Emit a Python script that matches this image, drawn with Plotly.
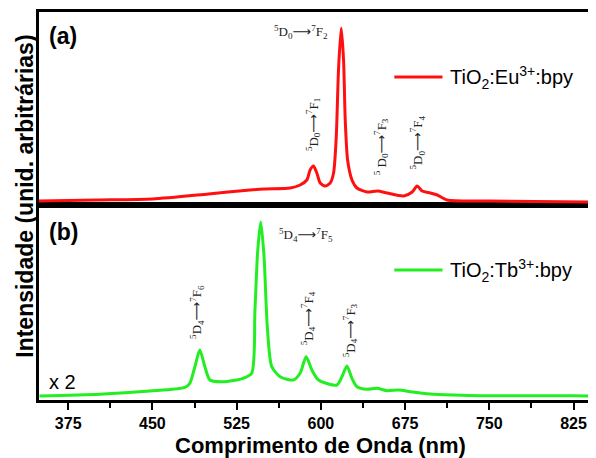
import plotly.graph_objects as go

# Panel (a): TiO2:Eu3+:bpy  (wavelength nm, intensity a.u.)
eu_wavelength = [349, 400, 450, 500, 537, 550, 572.6, 581.5, 587.5, 590.4, 593.4, 596.4,
                 599.4, 603.8, 608.3, 611.3, 613.7, 615.7, 618.1, 620.2, 621.7, 623.8,
                 627.7, 632.1, 641.1, 650.5, 658.9, 673.8, 681.3, 685.7, 690.2, 697.6,
                 703.6, 712.5, 750, 845]
eu_intensity = [4, 5, 6, 11, 15, 16, 17, 20, 25, 35, 39, 32,
                22, 19, 22, 32, 68, 135, 177, 145, 85, 45,
                25, 17, 13, 14, 12, 9, 13, 19, 14, 12,
                10, 5, 4, 3]

# Panel (b): TiO2:Tb3+:bpy (x 2)
tb_wavelength = [349.4, 402.9, 447.6, 478.8, 483.3, 487.8, 492.2, 496.7, 501.2, 513,
                 530.9, 538.4, 541.3, 543.8, 546.5, 549.4, 552.3, 556.3, 563.7, 575.5,
                 581.5, 586.9, 592, 597.9, 614.3, 618.8, 623.2, 627.7, 632.1, 641.1,
                 650, 659, 669.3, 679.7, 697.6, 718.4, 742.1, 824.4, 845]
tb_intensity = [4, 5.7, 9, 12.7, 16.7, 33.3, 50, 33.3, 20, 18.3,
                21.7, 26.7, 90, 150, 178, 143.3, 73.3, 33.3, 23.3, 20,
                26.7, 43.3, 30, 20, 15, 23.3, 34, 21.7, 13.3, 10.7,
                11.7, 9.3, 10, 8.3, 6, 5, 4.3, 4.3, 4]

x_ticks = [375, 450, 525, 600, 675, 750, 825]
x_minor = [412.5, 487.5, 562.5, 637.5, 712.5, 787.5]
x_range = [349, 845]

RED = "#ff1010"
GREEN = "#22ee22"
SANS = "Liberation Sans, Arial, sans-serif"
SERIF = "Liberation Serif, Times New Roman, serif"
ARROW = "<span style='font-family:DejaVu Sans'>⟶</span>"

fig = go.Figure()
fig.add_trace(go.Scatter(x=eu_wavelength, y=eu_intensity, mode="lines",
                         name="TiO<sub>2</sub>:Eu<sup>3+</sup>:bpy",
                         line=dict(color=RED, width=3, shape="spline", smoothing=0.7),
                         xaxis="x2", yaxis="y2", showlegend=False))
fig.add_trace(go.Scatter(x=tb_wavelength, y=tb_intensity, mode="lines",
                         name="TiO<sub>2</sub>:Tb<sup>3+</sup>:bpy",
                         line=dict(color=GREEN, width=3, shape="spline", smoothing=0.7),
                         xaxis="x", yaxis="y", showlegend=False))

split = 195 / 388
axis_common = dict(showline=True, linecolor="black", linewidth=3, showgrid=False, zeroline=False)

fig.update_layout(
    width=588, height=450,
    margin=dict(l=31, r=0, t=4, b=58),
    paper_bgcolor="white", plot_bgcolor="white",
    xaxis=dict(range=x_range, tickvals=x_ticks, ticks="outside", ticklen=7, tickwidth=2,
               tickcolor="black", mirror=True,
               minor=dict(tickvals=x_minor, ticks="outside",
                          ticklen=5, tickwidth=2, tickcolor="black"),
               tickfont=dict(family=SANS, size=16, color="black", weight="bold"),
               anchor="y", **axis_common),
    xaxis2=dict(range=x_range, matches="x", showticklabels=False, ticks="", mirror=True,
                anchor="y2", **axis_common),
    yaxis=dict(domain=[0, split], range=[0, 195], showticklabels=False, ticks="", **axis_common),
    yaxis2=dict(domain=[split, 1], range=[0, 193], showticklabels=False, ticks="", **axis_common),
)

ann = []
def label(text, x, y, yref, size=13, angle=0, family=SERIF, color="#222222", weight="normal", xanchor="center"):
    ann.append(dict(text=text, x=x, y=y, xref="x" if yref == "y" else "x2", yref=yref,
                    showarrow=False, textangle=angle, xanchor=xanchor, yanchor="middle",
                    font=dict(family=family, size=size, color=color, weight=weight)))

def trans(upper, lower):
    return f"<sup>5</sup>D<sub>{upper}</sub>{ARROW}<sup>7</sup>F<sub>{lower}</sub>"

# panel (a)
label("(a)", 370.5, 169, "y2", size=23, family=SANS, color="black", weight="bold")
label(trans(0, 2), 582.4, 173, "y2")
label(trans(0, 1), 593.1, 80, "y2", angle=-90)
label("<sup>5</sup> D<sub>0</sub>" + ARROW + "<sup>7</sup>F<sub>3</sub>", 653.8, 58, "y2", angle=-90)
label(trans(0, 4), 686.0, 63, "y2", angle=-90)
label("TiO<sub>2</sub>:Eu<sup>3+</sup>:bpy", 712.8, 128, "y2", size=20, family=SANS, color="black", xanchor="left")
# panel (b)
label("(b)", 370.5, 168, "y", size=23, family=SANS, color="black", weight="bold")
label(trans(4, 5), 586.9, 165, "y")
label(trans(4, 6), 489.6, 88, "y", angle=-90)
label(trans(4, 4), 588.7, 82, "y", angle=-90)
label(trans(4, 3), 626.2, 70, "y", angle=-90)
label("x 2", 369.5, 18, "y", size=20, family=SANS, color="black")
label("TiO<sub>2</sub>:Tb<sup>3+</sup>:bpy", 712.8, 130, "y", size=20, family=SANS, color="black", xanchor="left")

# axis titles
ann.append(dict(text="Comprimento de Onda (nm)", x=0.5045, y=-0.118, xref="paper", yref="paper",
                showarrow=False, xanchor="center", yanchor="middle",
                font=dict(family=SANS, size=22, color="black", weight="bold")))
ann.append(dict(text="Intensidade (unid. arbitrárias)", x=-0.025, y=0.524, xref="paper", yref="paper",
                showarrow=False, xanchor="center", yanchor="middle", textangle=-90,
                font=dict(family=SANS, size=23, color="black", weight="bold")))
fig.update_layout(annotations=ann)

# legend line samples
fig.add_shape(type="line", xref="x2", yref="y2", x0=665.4, x1=708.3, y0=128, y1=128,
              line=dict(color=RED, width=3))
fig.add_shape(type="line", xref="x", yref="y", x0=665.4, x1=708.3, y0=130, y1=130,
              line=dict(color=GREEN, width=3))

fig.write_html("out.html")
